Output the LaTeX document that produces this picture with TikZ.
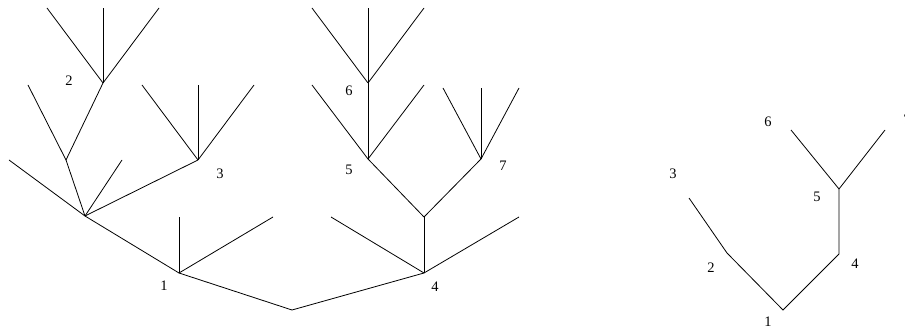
\documentclass[tikz,border=0pt]{standalone}
\usepackage{fontspec}
\setmainfont{Liberation Serif}
\begin{document}
\begin{tikzpicture}[x=1pt,y=-1pt,
  edge/.style={line width=0.8pt,black},
  lab/.style={font=\fontsize{14.5}{16}\selectfont,inner sep=0pt}]
\useasboundingbox (0,0) rectangle (905,328);
\clip (0,0) rectangle (905,328);
% ---- left big tree
\coordinate (R) at (292,310);
\coordinate (n1) at (179,273);
\coordinate (n4) at (424,273);
\coordinate (A) at (85,216);
\coordinate (B) at (66,160);
\coordinate (n2) at (103,83);
\coordinate (n3) at (198,160);
\coordinate (C) at (424,217);
\coordinate (n5) at (368,159);
\coordinate (n6) at (368,83);
\coordinate (n7) at (481,159);
% leaves
\coordinate (l1a) at (179,217);
\coordinate (l1b) at (273,217);
\coordinate (lAa) at (9,160);
\coordinate (lAb) at (122,160);
\coordinate (lBa) at (28,85);
\coordinate (l2a) at (47,8);
\coordinate (l2b) at (103,8);
\coordinate (l2c) at (159,8);
\coordinate (l3a) at (142,85);
\coordinate (l3b) at (198,85);
\coordinate (l3c) at (254,85);
\coordinate (l4a) at (331,217);
\coordinate (l4b) at (519,217);
\coordinate (l5a) at (312,85);
\coordinate (l5b) at (424,85);
\coordinate (l6a) at (312,8);
\coordinate (l6b) at (368,8);
\coordinate (l6c) at (424,8);
\coordinate (l7a) at (443,88);
\coordinate (l7b) at (481,88);
\coordinate (l7c) at (519,88);

\draw[edge] (n1) -- (R) -- (n4);
\draw[edge] (n1) -- (l1a);
\draw[edge] (n1) -- (l1b);
\draw[edge] (n1) -- (A);
\draw[edge] (A) -- (lAa);
\draw[edge] (A) -- (lAb);
\draw[edge] (A) -- (n3);
\draw[edge] (A) -- (B);
\draw[edge] (B) -- (lBa);
\draw[edge] (B) -- (n2);
\draw[edge] (n2) -- (l2a);
\draw[edge] (n2) -- (l2b);
\draw[edge] (n2) -- (l2c);
\draw[edge] (n3) -- (l3a);
\draw[edge] (n3) -- (l3b);
\draw[edge] (n3) -- (l3c);
\draw[edge] (n4) -- (l4a);
\draw[edge] (n4) -- (l4b);
\draw[edge] (n4) -- (C);
\draw[edge] (C) -- (n5);
\draw[edge] (C) -- (n7);
\draw[edge] (n5) -- (l5a);
\draw[edge] (n5) -- (l5b);
\draw[edge] (n5) -- (n6);
\draw[edge] (n6) -- (l6a);
\draw[edge] (n6) -- (l6b);
\draw[edge] (n6) -- (l6c);
\draw[edge] (n7) -- (l7a);
\draw[edge] (n7) -- (l7b);
\draw[edge] (n7) -- (l7c);

\node[lab] (t1) at (164,286) {1};
\node[lab] (t2) at (69,81) {2};
\node[lab] (t3) at (220,174) {3};
\node[lab] (t4) at (435,287) {4};
\node[lab] (t5) at (349,170) {5};
\node[lab] (t6) at (349,91) {6};
\node[lab] (t7) at (503,166) {7};

% ---- small tree
\coordinate (s1) at (783,310);
\coordinate (s2) at (727,253);
\coordinate (s3) at (689,198);
\coordinate (s4) at (839,254);
\coordinate (s5) at (839,189);
\coordinate (s6) at (791,130);
\coordinate (s7) at (885,130);
\draw[edge] (s3) -- (s2) -- (s1) -- (s4) -- (s5) -- (s6);
\draw[edge] (s5) -- (s7);

\node[lab] (u1) at (768,322) {1};
\node[lab] (u2) at (711,268) {2};
\node[lab] (u3) at (673,174) {3};
\node[lab] (u4) at (855,264) {4};
\node[lab] (u5) at (817,197) {5};
\node[lab] (u6) at (768,122) {6};
\node[lab] (u7) at (907,120) {7};
\end{tikzpicture}
\end{document}
